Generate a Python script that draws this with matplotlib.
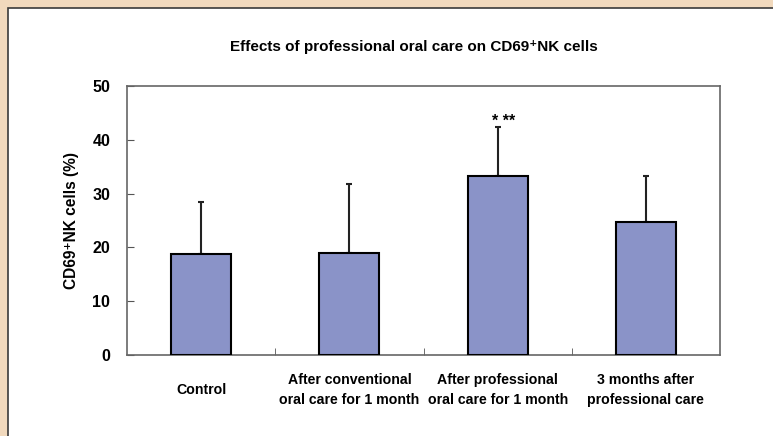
import matplotlib
matplotlib.use("Agg")
import matplotlib.pyplot as plt
from matplotlib.patches import Rectangle
import numpy as np

categories = ["Control",
              "After conventional\noral care for 1 month",
              "After professional\noral care for 1 month",
              "3 months after\nprofessional care"]
means = [18.8, 19.0, 33.3, 24.8]
sd = [9.6, 12.7, 9.1, 8.5]
yticks = [0, 10, 20, 30, 40, 50]
title = "Effects of professional oral care on CD69\u207aNK cells"
ylabel = "CD69\u207aNK cells (%)"
sig_label = "* **"

fam = ["Liberation Sans Narrow", "Liberation Sans", "DejaVu Sans"]
plt.rcParams["font.family"] = fam

fig = plt.figure(figsize=(7.73, 4.36), dpi=100)
fig.patch.set_facecolor("#F1D9BD")
W, H = 773, 436
bg = Rectangle((8 / W, -0.01), 1.0, 1 - 8 / H + 0.01, transform=fig.transFigure,
               facecolor="white", edgecolor="#3a3a3a", lw=1.2, zorder=-5)
fig.patches.append(bg)

ax = fig.add_axes([127 / W, 1 - 355 / H, (720 - 127) / W, (355 - 86) / H])
ax.set_zorder(2)
ax.patch.set_alpha(0)
x = np.arange(len(categories))
ax.bar(x, means, width=0.405, color="#8A93C8", edgecolor="black", lw=1.5, zorder=3)
ax.errorbar(x, means, yerr=[np.zeros(len(sd)), sd], fmt="none", ecolor="#222222",
            elinewidth=1.5, capsize=2, capthick=1.5, zorder=2)

ax.set_xlim(-0.5, len(categories) - 0.5)
ax.set_ylim(0, 50)
ax.set_yticks(yticks)
ax.set_yticklabels([str(v) for v in yticks], fontsize=11.5, fontweight="bold")
ax.set_xticks(x)
ax.set_xticklabels(categories, fontsize=10.2, fontweight="bold", linespacing=1.55)
for lab in ax.get_xticklabels():
    lab.set_va("center")
ax.tick_params(axis="x", length=0, pad=25)
ax.set_xticks(np.arange(0.5, len(categories) - 1, 1.0), minor=True)
ax.tick_params(axis="x", which="minor", direction="in", length=5, color="#555555")
ax.tick_params(axis="y", direction="in", length=5, color="#555555", pad=12)
for s in ax.spines.values():
    s.set_color("#666666")
    s.set_linewidth(1.2)

ax.set_ylabel(ylabel, fontsize=11.2, fontweight="bold", labelpad=10)
fig.text(414 / W, 1 - 47 / H, title, ha="center", va="center", fontsize=11, fontweight="bold")
ax.text(x[2] - 0.04, means[2] + sd[2] - 0.3, sig_label, ha="left", va="bottom",
        fontsize=11.5, fontweight="bold")

fig.savefig("out.png", dpi=100, facecolor=fig.get_facecolor())
